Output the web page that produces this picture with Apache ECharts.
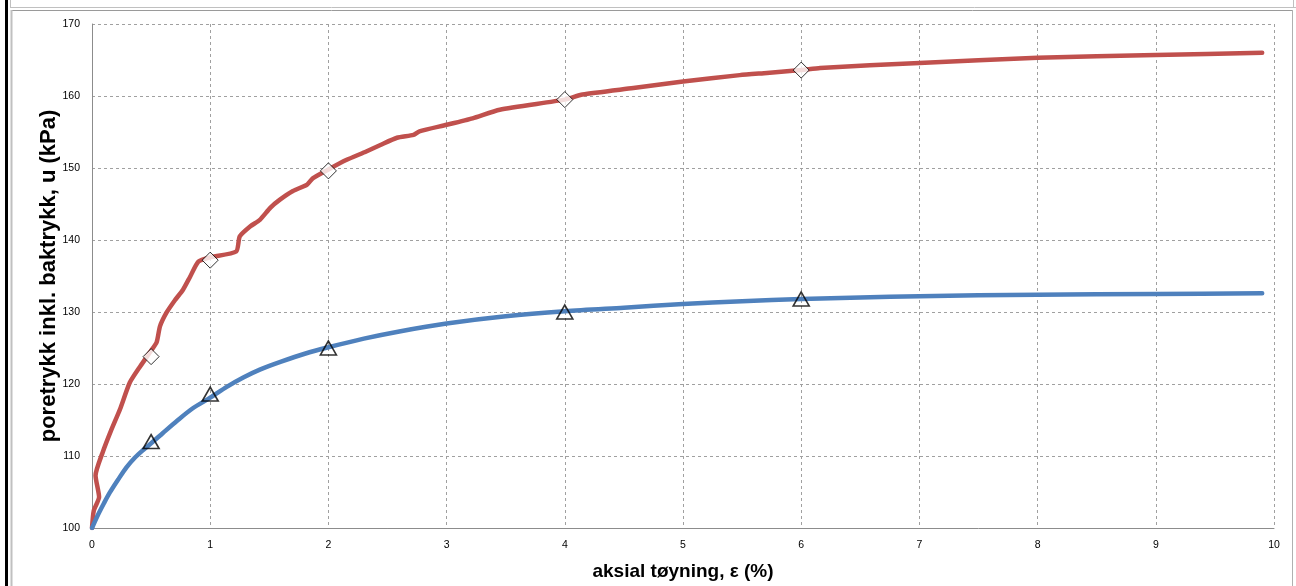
<!DOCTYPE html>
<html><head><meta charset="utf-8">
<script src="https://cdn.jsdelivr.net/npm/echarts@6/dist/echarts.min.js"></script>
<style>html,body{margin:0;padding:0;background:#fff}#c{width:1296px;height:586px}</style>
</head><body><div id="c"></div>
<script>
var xTicks = [0,1,2,3,4,5,6,7,8,9,10];
var yTicks = [100,110,120,130,140,150,160,170];
var redCurve = [[0,100],[0.015,102.4],[0.06,104.3],[0.03,107.3],[0.09,110.5],[0.16,113.5],[0.237,116.5],[0.32,120.2],[0.41,122.5],[0.49,124.4],[0.547,125.8],[0.575,128],[0.63,129.9],[0.70,131.6],[0.77,133.1],[0.83,134.9],[0.90,137.0],[1.0,137.6],[1.22,138.4],[1.25,140.5],[1.34,141.9],[1.42,142.8],[1.51,144.5],[1.59,145.6],[1.70,146.8],[1.82,147.7],[1.87,148.6],[2.0,149.8],[2.15,151.1],[2.32,152.3],[2.44,153.2],[2.58,154.2],[2.72,154.6],[2.77,155.1],[3.0,156.0],[3.22,156.9],[3.45,158.1],[4.0,159.5],[4.15,160.2],[4.58,161.1],[5.0,162.0],[5.48,162.9],[5.71,163.2],[6.0,163.6],[6.16,163.9],[7.0,164.6],[8.0,165.3],[9.0,165.7],[9.9,166.0]];
var blueCurve = [[0,100],[0.05,101.8],[0.1,103.4],[0.15,104.9],[0.22,106.7],[0.29,108.4],[0.364,109.8],[0.43,110.8],[0.51,111.9],[0.6,113.2],[0.72,114.9],[0.85,116.6],[1.0,118.1],[1.14,119.6],[1.28,120.9],[1.42,122.0],[1.6,123.1],[1.8,124.2],[2.0,125.1],[2.3,126.3],[2.6,127.3],[3.0,128.4],[3.5,129.4],[4.0,130.1],[4.5,130.6],[5.0,131.1],[5.5,131.5],[6.0,131.8],[6.5,132.0],[7.0,132.2],[8.0,132.4],[9.0,132.5],[9.9,132.6]];
var redMarkers = [[0.5,123.8],[1.0,137.2],[2.0,149.6],[4.0,159.5],[6.0,163.6]];
var blueMarkers = [[0.5,112.0],[1.0,118.6],[2.0,125.0],[4.0,130.0],[6.0,131.8]];

var chart = echarts.init(document.getElementById('c'), null, {renderer:'canvas'});
var lblFont = {color:'#000', fontFamily:'Liberation Sans', fontSize:10.5};
chart.setOption({
  animation:false,
  backgroundColor:'#fff',
  grid:{left:92,right:22,top:24,bottom:57,containLabel:false},
  xAxis:{type:'value',min:0,max:10,interval:1,
    name:'aksial tøyning, ε (%)',nameLocation:'middle',nameGap:34,
    nameTextStyle:{fontFamily:'Liberation Sans',fontWeight:'bold',fontSize:19,color:'#000'},
    axisLine:{show:true,lineStyle:{color:'#8c8c8c',width:1}},
    axisTick:{show:false},
    axisLabel:Object.assign({margin:12},lblFont),
    splitLine:{show:true,lineStyle:{color:'#a0a0a0',type:[3,3],width:1}}},
  yAxis:{type:'value',min:100,max:170,interval:10,
    name:'poretrykk inkl. baktrykk, u (kPa)',nameLocation:'middle',nameGap:32,nameMoveOverlap:false,
    nameTextStyle:{fontFamily:'Liberation Sans',fontWeight:'bold',fontSize:22,color:'#000'},
    axisLine:{show:true,lineStyle:{color:'#8c8c8c',width:1}},
    axisTick:{show:false},
    axisLabel:Object.assign({margin:12},lblFont),
    splitLine:{show:true,lineStyle:{color:'#a0a0a0',type:[3,3],width:1}}},
  graphic:[
    {type:'rect',shape:{x:5,y:0,width:3,height:586},style:{fill:'#000'},z:100},
    {type:'line',shape:{x1:10.5,y1:0,x2:10.5,y2:8},style:{stroke:'#c0c0c0',lineWidth:1},z:100},
    {type:'line',shape:{x1:10,y1:7.5,x2:1296,y2:7.5},style:{stroke:'#c0c0c0',lineWidth:1},z:100},
    {type:'line',shape:{x1:1293.5,y1:0,x2:1293.5,y2:8},style:{stroke:'#c0c0c0',lineWidth:1},z:100},
    {type:'line',shape:{x1:11,y1:10.5,x2:1293,y2:10.5},style:{stroke:'#9a9a9a',lineWidth:1},z:100},
    {type:'line',shape:{x1:11.5,y1:10,x2:11.5,y2:586},style:{stroke:'#c0c0c0',lineWidth:2},z:100},
    {type:'line',shape:{x1:1292.5,y1:10,x2:1292.5,y2:586},style:{stroke:'#b0b0b0',lineWidth:1},z:100}
  ],
  series:[
    {type:'line',data:redCurve,showSymbol:false,symbol:'none',smooth:0.2,
      lineStyle:{color:'#C0504D',width:4.5,cap:'round',join:'round'},z:3},
    {type:'line',data:blueCurve,showSymbol:false,symbol:'none',smooth:0.3,
      lineStyle:{color:'#4F81BD',width:4.5,cap:'round',join:'round'},z:3},
    {type:'scatter',data:redMarkers,symbol:'diamond',symbolSize:[16,16],
      itemStyle:{color:'#fff',borderColor:'#000',borderWidth:1},z:5},
    {type:'scatter',data:blueMarkers,symbol:'triangle',symbolSize:[16,14],
      itemStyle:{color:'rgba(255,255,255,0)',borderColor:'#000',borderWidth:1.6},z:5}
  ]
});
</script></body></html>
